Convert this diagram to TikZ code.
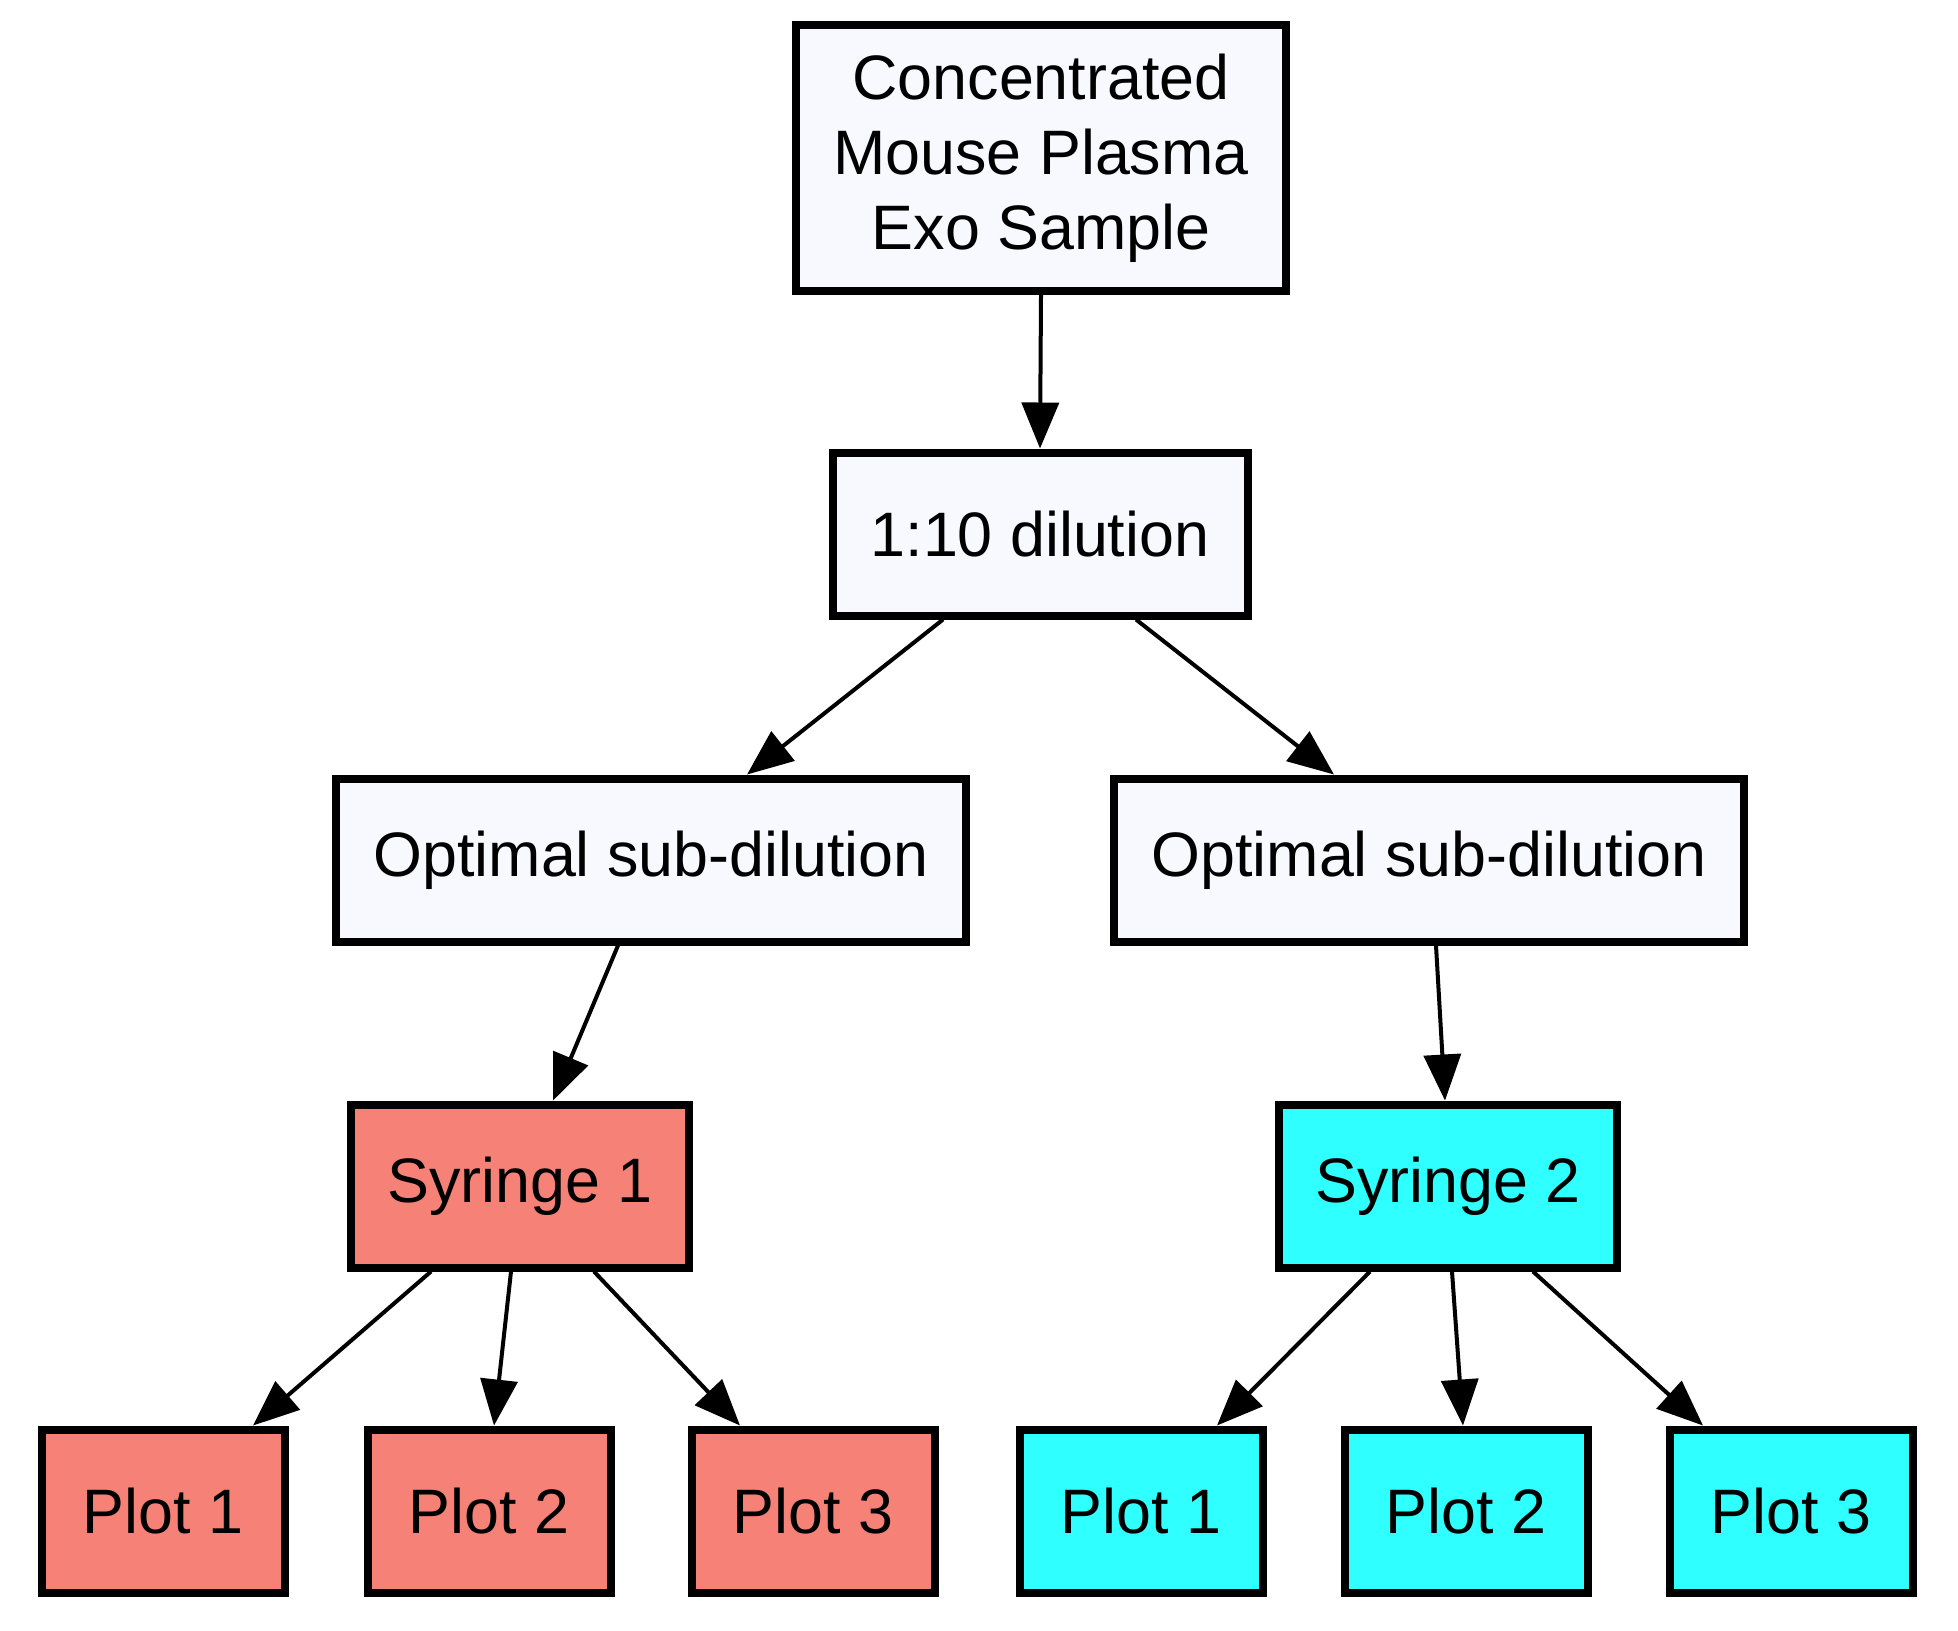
\documentclass[tikz,border=0pt]{standalone}
\usepackage{fontspec}
\setmainfont{Liberation Sans}
\usetikzlibrary{arrows.meta}
\definecolor{ghost}{HTML}{F8F8FF}
\definecolor{salmonc}{HTML}{F68277}
\definecolor{cyanc}{HTML}{30FFFF}
\begin{document}
\begin{tikzpicture}[x=0.5pt,y=-0.5pt,
  box/.style={draw=black,line width=4pt,rectangle,inner sep=0pt,align=center,
    font=\fontsize{31.4}{37.5}\selectfont,minimum height=81.5pt},
  wbox/.style={box,fill=ghost},
  sbox/.style={box,fill=salmonc},
  cbox/.style={box,fill=cyanc},
  edge/.style={line width=2pt,-{Triangle[length=23pt,width=18.5pt]}}]
\useasboundingbox (0,0) rectangle (1958,1630);
\node[wbox,minimum width=245pt,minimum height=133pt] (top) at (1041,158) {Concentrated\\Mouse Plasma\\Exo Sample};
\node[wbox,minimum width=207.5pt] (dil) at (1040,534) {1:10 dilution};
\node[wbox,minimum width=315pt] (optL) at (651,860) {Optimal sub-dilution};
\node[wbox,minimum width=315pt] (optR) at (1429,860) {Optimal sub-dilution};
\node[sbox,minimum width=169pt] (syr1) at (520,1186) {Syringe 1};
\node[cbox,minimum width=169pt] (syr2) at (1448,1186) {Syringe 2};
\node[sbox,minimum width=121.5pt] (p1L) at (163,1511) {Plot 1};
\node[sbox,minimum width=121.5pt] (p2L) at (489,1511) {Plot 2};
\node[sbox,minimum width=121.5pt] (p3L) at (813,1511) {Plot 3};
\node[cbox,minimum width=121.5pt] (p1R) at (1141,1511) {Plot 1};
\node[cbox,minimum width=121.5pt] (p2R) at (1466,1511) {Plot 2};
\node[cbox,minimum width=121.5pt] (p3R) at (1791,1511) {Plot 3};
\draw[edge] (top.south) -- (dil.north);
\draw[edge] ([xshift=-48.5pt]dil.south) -- ([xshift=48pt]optL.north);
\draw[edge] ([xshift=48pt]dil.south) -- ([xshift=-47.5pt]optR.north);
\draw[edge] ([xshift=-16.5pt]optL.south) -- ([xshift=16.5pt]syr1.north);
\draw[edge] ([xshift=3.5pt]optR.south) -- ([xshift=-1.5pt]syr2.north);
\draw[edge] ([xshift=-44.5pt]syr1.south) -- ([xshift=45pt]p1L.north);
\draw[edge] ([xshift=-4.5pt]syr1.south) -- ([xshift=2.5pt]p2L.north);
\draw[edge] ([xshift=37pt]syr1.south) -- ([xshift=-36.5pt]p3L.north);
\draw[edge] ([xshift=-39pt]syr2.south) -- ([xshift=38pt]p1R.north);
\draw[edge] ([xshift=2pt]syr2.south) -- ([xshift=-1.5pt]p2R.north);
\draw[edge] ([xshift=42.5pt]syr2.south) -- ([xshift=-44pt]p3R.north);
\end{tikzpicture}
\end{document}
